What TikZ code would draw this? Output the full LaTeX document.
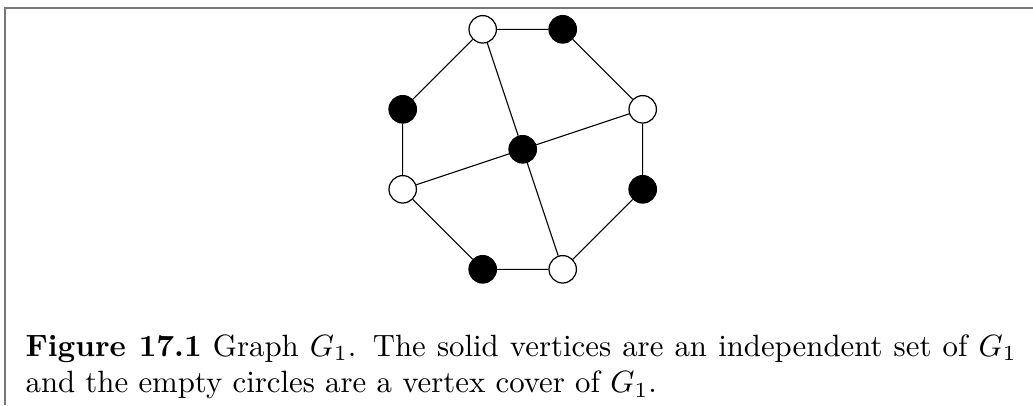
\documentclass[tikz,border=0pt]{standalone}
\usepackage{xcolor}
\definecolor{framegray}{RGB}{120,120,120}
\begin{document}
\begin{tikzpicture}[x=0.3247pt,y=-0.3247pt,
  vtx/.style={circle,draw=black,line width=0.4pt,minimum size=8.9pt,inner sep=0pt},
  solidv/.style={vtx,fill=black},
  emptyv/.style={vtx,fill=white},
  edge/.style={draw=black,line width=0.35pt},
  framel/.style={draw=framegray,line width=0.65pt}]
\useasboundingbox (0,0) rectangle (1033,405);
\coordinate (fbl) at (5,405);
\coordinate (ftl) at (5,7.7);
\coordinate (ftr) at (1033,7.7);
\draw[framel] (fbl) -- (ftl) -- (ftr);
\node[emptyv] (a) at (482.7,29.3) {};
\node[solidv] (b) at (562.7,29.3) {};
\node[emptyv] (c) at (642.7,109.3) {};
\node[solidv] (d) at (642.7,189.3) {};
\node[emptyv] (e) at (562.7,269.3) {};
\node[solidv] (f) at (482.7,269.3) {};
\node[emptyv] (g) at (402.7,189.3) {};
\node[solidv] (h) at (402.7,109.3) {};
\node[solidv] (m) at (522.7,149.3) {};
\path[edge] (a) -- (b) (b) -- (c) (c) -- (d) (d) -- (e) (e) -- (f) (f) -- (g) (g) -- (h) (h) -- (a)
  (a) -- (m) (m) -- (e) (g) -- (m) (m) -- (c);
\node[anchor=base west,inner sep=0pt,text width=321.8pt,align=justify] (cap) at (25,356)
  {\textbf{Figure 17.1} Graph $G_1$. The solid vertices are an independent set of $G_1$\linebreak
   and the empty circles are a vertex cover of $G_1$.};
\end{tikzpicture}
\end{document}
